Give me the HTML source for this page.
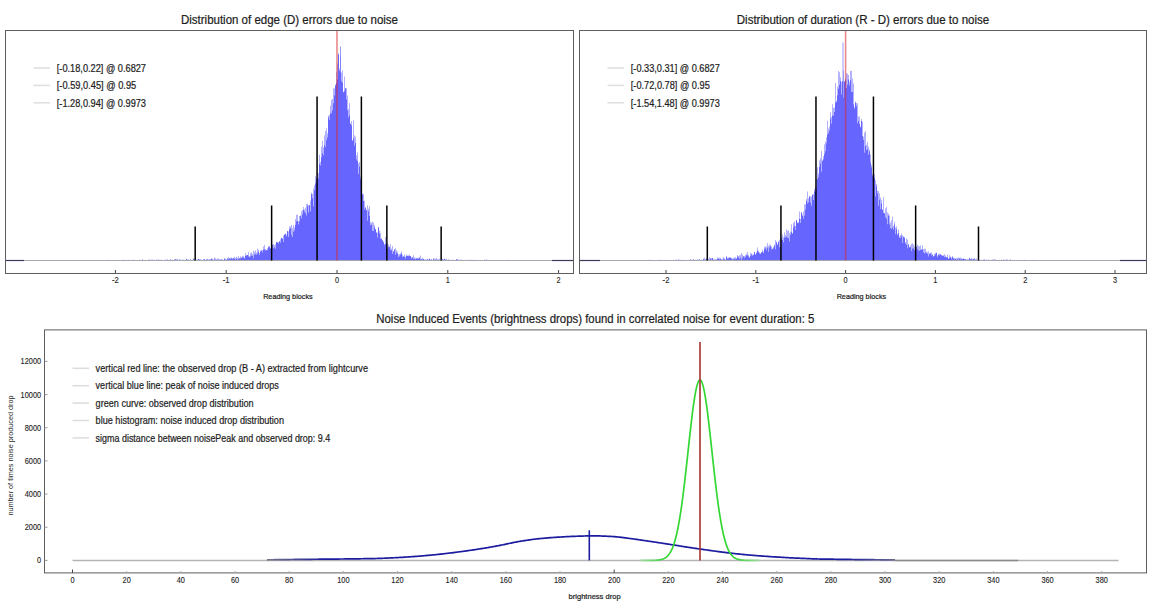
<!DOCTYPE html>
<html><head><meta charset="utf-8"><style>
html,body{margin:0;padding:0;background:#fff;width:1152px;height:608px;overflow:hidden;font-family:"Liberation Sans", sans-serif;}
svg{display:block;}
</style></head><body><svg width="1152" height="608" viewBox="0 0 1152 608" font-family='"Liberation Sans", sans-serif'><rect x="0" y="0" width="1152" height="608" fill="#fff"/><text x="289.5" y="23.8" font-size="12" text-anchor="middle" fill="#1e1e1e" stroke="#1e1e1e" stroke-width="0.22" textLength="217" lengthAdjust="spacingAndGlyphs">Distribution of edge (D) errors due to noise</text><line x1="340.5" y1="260.5" x2="340.5" y2="46.5" stroke="#9a9aff" stroke-width="1"/><path d="M6.0,260.5H28.0V260.4H28.5V260.5H29.0V260.4H29.5V260.5H30.5V260.3H31.0V260.4H31.5V260.5H33.5V260.4H34.0V260.5H34.5V260.4H35.0V260.3H35.5V260.5H39.0V260.4H40.0V260.5H41.0V260.4H41.5V260.5H43.0V260.3H43.5V260.4H44.0V260.5H45.5V260.3H46.0V260.5H47.0V260.4H47.5V260.5H50.0V260.3H50.5V260.4H51.0V260.5H51.5V260.4H52.0V260.5H52.5V260.3H53.0V260.5H53.5V260.4H54.0V260.5H54.5V260.4H55.0V260.5H57.5V260.0H58.0V260.5H59.0V260.4H60.0V260.5H61.0V260.3H61.5V260.4H62.0V260.5H64.0V260.4H64.5V260.5H65.0V260.3H65.5V260.4H66.0V260.5H68.5V260.4H69.0V260.5H69.5V260.3H70.0V260.5H70.5V260.3H71.0V260.5H71.5V260.3H72.0V260.4H72.5V260.5H73.0V260.2H73.5V260.1H74.0V260.5H76.0V260.2H76.5V260.5H79.0V260.1H79.5V260.5H80.0V260.2H80.5V260.4H81.0V260.5H82.5V260.4H83.0V260.5H85.0V260.0H85.5V260.5H86.5V260.3H87.0V260.0H87.5V260.5H89.5V260.2H90.0V260.4H91.0V260.5H91.5V260.3H92.0V260.5H94.0V260.0H94.5V260.5H95.0V260.3H95.5V260.4H96.0V260.5H97.0V260.2H97.5V260.5H98.0V260.4H99.0V260.0H99.5V260.2H100.0V260.3H100.5V260.5H101.5V260.1H102.5V260.4H103.0V260.2H103.5V260.1H105.0V260.5H105.5V259.9H106.0V260.5H106.5V260.1H107.0V260.2H107.5V260.1H108.0V259.8H108.5V259.9H109.0V260.5H110.0V260.1H110.5V260.5H111.0V260.4H111.5V260.1H112.0V260.5H113.0V260.3H114.0V260.4H114.5V260.3H115.0V260.5H116.0V260.4H116.5V260.5H117.5V260.2H118.0V260.4H118.5V260.2H119.0V260.5H121.0V260.3H121.5V260.5H122.0V260.2H123.0V259.6H123.5V260.5H124.0V260.0H124.5V260.3H125.5V260.5H126.5V260.0H127.0V260.3H128.0V260.4H128.5V259.8H129.0V260.3H129.5V260.5H132.0V259.7H132.5V260.3H133.0V260.5H134.0V259.8H134.5V260.2H135.5V260.3H136.0V260.2H136.5V259.9H137.0V260.0H137.5V260.2H138.0V260.5H138.5V260.0H139.0V260.5H139.5V259.8H140.0V260.5H140.5V260.3H141.0V260.2H141.5V260.5H142.0V259.5H142.5V259.6H143.0V260.4H143.5V259.9H144.0V260.0H144.5V260.5H145.0V260.1H145.5V260.2H146.5V260.5H147.0V260.3H148.0V259.6H148.5V260.0H149.0V260.2H149.5V259.5H150.0V260.4H150.5V260.3H151.0V260.5H151.5V259.4H152.0V259.7H153.0V259.8H153.5V260.1H154.0V260.0H154.5V260.3H155.0V260.2H155.5V260.1H156.0V259.4H156.5V259.8H157.0V260.1H157.5V260.4H158.5V259.3H159.0V259.8H159.5V260.1H160.0V260.3H160.5V260.5H161.0V260.1H161.5V259.6H162.0V260.3H162.5V260.2H163.5V260.0H164.0V260.5H164.5V260.2H165.0V260.5H165.5V259.6H166.0V260.5H166.5V259.7H167.0V259.2H167.5V260.2H168.0V260.4H168.5V259.9H169.0V260.0H169.5V260.5H170.0V259.8H170.5V258.9H171.0V260.1H172.0V260.5H172.5V259.8H173.0V260.5H174.0V259.3H174.5V260.5H175.0V259.4H175.5V259.1H176.0V259.8H176.5V259.6H177.0V258.8H177.5V260.1H178.0V260.3H178.5V260.5H179.0V259.9H179.5V259.1H180.0V259.4H180.5V260.5H181.0V260.4H181.5V260.2H182.0V259.7H182.5V260.0H183.0V259.8H183.5V259.7H184.0V260.1H184.5V259.9H185.0V259.7H185.5V259.9H186.0V259.5H186.5V258.7H187.0V259.5H187.5V259.8H188.0V260.5H188.5V259.6H189.0V260.5H190.0V259.3H191.0V259.9H191.5V260.5H192.0V260.0H192.5V260.2H193.0V259.3H193.5V258.3H194.0V259.6H194.5V260.2H195.0V260.5H195.5V259.8H196.5V260.5H197.0V259.6H197.5V260.5H198.0V258.9H198.5V259.0H199.0V258.9H199.5V260.0H200.0V259.3H200.5V259.7H201.0V259.9H202.0V260.5H203.0V259.0H203.5V259.7H204.0V259.4H204.5V258.9H205.0V260.5H205.5V260.1H206.0V259.4H206.5V259.3H207.0V259.8H207.5V258.8H208.0V259.4H208.5V260.4H209.0V260.2H209.5V258.9H210.0V259.1H210.5V260.5H211.0V258.5H211.5V259.0H212.0V258.4H212.5V259.7H213.5V260.3H214.0V257.5H214.5V259.5H215.0V258.2H215.5V259.9H216.0V259.3H216.5V260.5H217.0V259.7H217.5V258.6H218.0V260.3H218.5V258.5H219.0V259.1H219.5V260.1H220.0V259.7H220.5V259.6H221.0V259.3H221.5V259.6H222.0V259.8H222.5V259.4H223.0V259.9H223.5V260.1H224.0V259.0H224.5V258.1H225.0V260.3H225.5V258.8H226.0V259.4H226.5V259.7H227.0V257.9H227.5V259.2H228.0V257.1H228.5V259.3H229.0V258.1H229.5V258.7H230.0V259.2H230.5V257.7H231.0V258.4H231.5V257.6H232.0V258.2H232.5V259.3H233.0V258.1H233.5V257.9H234.0V256.8H234.5V258.9H235.0V257.8H235.5V259.7H236.0V256.8H236.5V258.8H237.0V259.7H237.5V257.4H238.0V255.9H238.5V259.1H239.0V258.5H239.5V258.0H240.0V258.4H240.5V256.3H241.0V257.8H241.5V257.6H242.0V255.7H242.5V257.5H243.0V255.7H243.5V257.6H244.0V257.8H244.5V258.6H245.0V253.0H245.5V256.1H246.0V255.2H246.5V255.4H247.0V255.0H248.0V251.9H248.5V256.5H249.0V257.2H249.5V256.2H250.0V256.6H250.5V252.9H251.0V252.5H251.5V255.5H252.0V256.1H252.5V254.1H253.0V250.7H253.5V258.3H254.0V251.8H254.5V254.7H255.0V250.4H255.5V254.3H256.0V252.6H256.5V254.8H257.0V253.7H257.5V248.7H258.0V249.7H258.5V252.0H259.0V252.9H259.5V254.9H260.0V251.6H260.5V250.6H261.5V250.4H262.0V252.5H262.5V250.0H263.0V249.8H263.5V246.6H264.0V245.1H264.5V249.4H265.0V250.7H265.5V248.9H266.0V249.9H266.5V250.0H267.0V248.2H267.5V250.3H268.0V246.0H268.5V247.5H269.0V246.3H269.5V247.1H270.0V248.2H270.5V248.5H271.0V246.4H271.5V246.9H272.0V244.6H272.5V244.9H273.0V248.2H273.5V244.0H274.0V247.5H274.5V245.2H275.0V244.0H275.5V248.7H276.0V242.2H276.5V241.7H277.0V242.2H277.5V242.6H278.0V242.1H278.5V243.6H279.0V241.1H279.5V241.6H280.0V239.2H280.5V242.8H281.0V238.0H281.5V237.8H282.0V238.3H282.5V238.8H283.0V235.2H283.5V242.0H284.0V234.6H284.5V234.8H285.0V234.2H285.5V233.4H286.0V236.4H286.5V234.6H287.0V231.0H287.5V231.2H288.0V231.5H288.5V237.1H289.0V229.2H289.5V226.4H290.5V228.6H291.0V234.8H291.5V224.8H292.0V228.3H292.5V236.9H293.0V225.1H293.5V231.8H294.0V230.4H294.5V227.2H295.0V219.0H295.5V224.9H296.0V221.6H296.5V214.8H297.0V214.7H297.5V221.1H298.0V220.9H298.5V224.6H299.0V221.5H299.5V216.0H300.0V215.4H300.5V215.9H301.0V211.3H301.5V218.4H302.0V214.4H302.5V210.1H303.0V210.0H303.5V206.9H304.0V209.2H304.5V211.7H305.0V207.7H305.5V213.3H306.0V215.5H306.5V204.0H307.0V206.2H307.5V203.5H308.0V212.5H308.5V204.9H309.0V205.0H309.5V205.3H310.0V211.4H310.5V200.4H311.0V192.7H311.5V194.2H312.0V198.2H312.5V193.9H313.0V188.4H313.5V206.4H314.0V190.6H314.5V185.6H315.0V183.4H315.5V176.2H316.0V177.9H316.5V180.7H317.0V178.4H317.5V173.0H318.0V178.5H318.5V172.9H319.0V164.3H319.5V154.8H320.0V165.4H320.5V161.8H321.0V157.2H321.5V146.4H322.0V153.3H322.5V140.7H323.0V155.2H323.5V147.4H324.0V145.1H324.5V135.6H325.0V131.1H325.5V147.2H326.0V140.2H326.5V128.2H327.0V133.2H327.5V137.6H328.0V115.6H328.5V117.4H329.0V115.0H329.5V120.1H330.0V105.7H330.5V113.3H331.0V99.9H331.5V113.6H332.0V110.5H332.5V98.7H333.0V103.2H333.5V88.3H334.0V88.6H334.5V95.5H335.0V84.4H335.5V85.6H336.0V71.8H336.5V82.9H337.0V79.4H337.5V63.6H338.0V53.4H338.5V54.5H339.0V70.9H339.5V68.5H340.0V56.6H340.5V72.6H341.0V81.3H341.5V72.4H342.0V70.4H342.5V82.8H343.0V91.8H343.5V92.4H344.0V76.4H344.5V91.3H345.0V88.3H346.0V88.2H346.5V99.4H347.0V95.6H347.5V110.2H348.0V109.0H348.5V117.4H349.0V103.1H349.5V115.3H350.0V123.8H350.5V123.6H351.0V125.4H351.5V121.1H352.0V141.1H352.5V140.1H353.0V138.5H353.5V120.5H354.0V135.2H354.5V145.8H355.0V143.1H355.5V136.7H356.0V155.3H356.5V159.4H357.0V152.6H357.5V160.9H358.0V163.2H358.5V173.9H359.0V162.1H359.5V166.6H360.0V176.5H360.5V179.2H361.0V198.3H361.5V186.9H362.0V194.8H362.5V193.4H363.0V193.9H363.5V201.0H364.0V209.5H364.5V200.7H365.0V207.8H365.5V207.3H366.0V210.1H366.5V210.2H367.0V220.8H367.5V205.6H368.0V211.4H368.5V208.8H369.0V206.2H369.5V216.1H370.0V225.2H370.5V222.3H371.0V224.7H371.5V222.8H372.0V221.5H372.5V231.1H373.0V222.7H373.5V231.0H374.0V224.9H374.5V227.5H375.0V229.2H376.0V231.9H376.5V233.0H377.0V237.6H377.5V232.5H378.0V226.9H378.5V227.4H379.0V230.6H379.5V233.5H380.0V238.8H380.5V232.8H381.0V238.3H381.5V239.1H382.0V240.5H382.5V240.0H383.0V242.2H383.5V241.8H384.0V245.3H384.5V243.8H385.0V237.0H385.5V244.1H386.0V245.1H386.5V243.5H387.0V243.6H387.5V248.8H388.0V246.9H388.5V244.5H389.0V246.5H389.5V247.3H390.0V244.3H390.5V249.9H391.0V248.5H391.5V250.3H392.0V246.1H392.5V254.1H393.0V251.5H394.0V249.3H394.5V249.7H395.0V248.4H395.5V254.8H396.0V250.3H396.5V252.7H397.0V253.7H397.5V251.6H398.0V254.6H398.5V256.9H399.0V254.0H399.5V256.2H400.0V254.8H400.5V253.2H401.0V253.5H401.5V251.5H402.0V254.7H402.5V257.1H403.0V256.0H403.5V256.4H404.0V257.0H404.5V254.5H405.0V256.4H405.5V258.5H406.0V254.6H406.5V255.9H407.0V255.4H407.5V255.9H408.0V255.2H408.5V256.2H409.0V254.7H409.5V255.9H410.0V256.1H410.5V256.2H411.0V258.8H411.5V257.2H412.0V257.4H412.5V256.9H413.0V258.9H413.5V255.3H414.0V257.3H414.5V259.0H415.0V259.6H415.5V258.0H416.0V257.9H416.5V258.6H417.0V257.8H417.5V258.7H418.0V257.4H418.5V258.9H419.0V258.2H419.5V257.2H420.0V255.6H420.5V259.4H421.0V258.9H421.5V259.3H422.0V257.8H422.5V259.7H423.0V259.1H423.5V258.8H424.0V259.7H425.0V259.3H425.5V260.5H426.0V260.3H426.5V259.4H427.0V258.9H427.5V259.3H428.0V260.5H428.5V259.6H429.0V258.6H429.5V258.8H430.0V259.4H430.5V260.0H431.0V258.9H431.5V259.8H432.0V260.3H432.5V260.0H433.0V258.3H433.5V259.3H434.0V258.6H434.5V259.9H435.0V258.8H435.5V260.0H436.0V259.7H436.5V257.8H437.0V259.1H437.5V260.0H438.0V259.7H438.5V259.4H439.0V258.8H439.5V260.0H440.0V260.5H440.5V259.9H441.0V259.7H442.0V258.9H442.5V259.6H443.0V259.3H443.5V260.5H444.0V259.3H444.5V258.5H445.0V259.4H445.5V259.7H446.0V259.8H446.5V258.8H447.0V260.4H447.5V260.0H448.0V259.7H448.5V259.5H449.0V260.2H449.5V259.8H450.0V260.1H450.5V259.9H451.0V260.1H451.5V260.5H452.0V260.0H452.5V259.6H453.0V260.5H453.5V260.2H454.0V259.7H454.5V260.5H455.0V260.0H455.5V260.5H456.0V259.5H456.5V259.0H457.0V259.1H457.5V260.2H458.0V259.8H458.5V260.1H459.5V259.5H460.0V260.5H460.5V259.7H461.0V260.2H461.5V259.5H462.0V260.1H462.5V260.5H463.0V260.1H463.5V259.9H464.0V260.2H464.5V260.0H465.0V260.4H465.5V260.5H466.0V259.8H466.5V259.9H467.0V260.2H468.0V259.8H468.5V260.4H469.0V260.5H469.5V260.3H470.0V259.7H470.5V260.5H471.0V259.7H471.5V260.5H472.5V259.7H473.0V260.3H473.5V260.5H474.0V260.4H474.5V259.9H475.0V259.8H475.5V260.4H476.0V260.1H476.5V260.0H477.0V260.5H477.5V260.1H478.0V260.3H478.5V260.5H479.5V260.3H480.5V260.5H481.5V259.9H482.0V260.2H482.5V260.0H483.0V259.9H483.5V260.1H484.0V259.5H484.5V260.5H485.0V260.0H485.5V260.4H486.0V259.6H486.5V259.7H487.0V260.5H488.0V260.1H489.5V260.4H490.0V260.2H490.5V260.1H491.0V260.4H491.5V260.0H492.0V260.5H492.5V260.1H493.0V260.5H493.5V260.0H494.0V260.4H494.5V260.5H495.0V260.2H495.5V260.5H497.0V260.4H497.5V260.2H498.0V260.0H498.5V260.4H499.0V260.0H499.5V260.4H500.5V260.2H501.0V260.1H501.5V260.5H502.5V260.4H503.5V260.5H504.0V260.1H504.5V260.5H505.0V260.3H505.5V260.5H506.0V260.3H507.0V260.5H507.5V259.8H508.0V260.3H508.5V259.9H509.0V260.1H509.5V260.5H510.5V260.3H511.0V260.4H512.0V260.5H514.0V260.3H514.5V260.5H516.0V260.4H516.5V260.5H519.0V260.1H519.5V260.5H520.0V260.3H520.5V260.5H521.0V260.4H521.5V260.5H522.5V260.3H523.0V260.0H523.5V260.4H524.5V260.5H525.0V260.3H525.5V260.5H526.0V260.3H526.5V260.5H527.0V260.1H527.5V260.5H528.5V260.3H529.0V260.5H531.5V260.0H532.0V260.3H532.5V260.5H534.0V260.3H534.5V260.5H535.5V260.3H536.5V260.5H539.0V260.4H539.5V260.5H540.0V260.4H540.5V260.2H541.0V260.3H541.5V260.5H542.0V260.4H542.5V260.3H543.0V260.5H545.0V260.3H545.5V260.5H549.0V260.4H549.5V260.5H553.0V260.4H553.5V260.5H554.5V260.3H555.5V260.5H556.5V260.4H557.0V260.5H572.5V260.5Z" fill="#6666ff" stroke="none"/><line x1="5" y1="260.5" x2="573" y2="260.5" stroke="#a8a8b0" stroke-width="1"/><line x1="5" y1="260.5" x2="24" y2="260.5" stroke="#3a3a5a" stroke-width="1.2"/><line x1="552" y1="260.5" x2="573" y2="260.5" stroke="#3a3a5a" stroke-width="1.2"/><line x1="337.0" y1="30" x2="337.0" y2="260.5" stroke="#d82828" stroke-opacity="0.55" stroke-width="1.6"/><line x1="195.18" y1="226.5" x2="195.18" y2="260.5" stroke="#000" stroke-width="1.5"/><line x1="271.63" y1="205.5" x2="271.63" y2="260.5" stroke="#000" stroke-width="1.5"/><line x1="317.06" y1="96.5" x2="317.06" y2="260.5" stroke="#000" stroke-width="1.5"/><line x1="361.38" y1="96.5" x2="361.38" y2="260.5" stroke="#000" stroke-width="1.5"/><line x1="386.86" y1="205.5" x2="386.86" y2="260.5" stroke="#000" stroke-width="1.5"/><line x1="441.15" y1="226.5" x2="441.15" y2="260.5" stroke="#000" stroke-width="1.5"/><rect x="5.5" y="30.5" width="568" height="243" fill="none" stroke="#5e5e5e" stroke-width="1"/><line x1="115.40" y1="273" x2="115.40" y2="270" stroke="#444" stroke-width="1"/><text x="115.40" y="282.9" font-size="8.4" text-anchor="middle" fill="#1e1e1e" stroke="#1e1e1e" stroke-width="0.12" textLength="6.8" lengthAdjust="spacingAndGlyphs">-2</text><line x1="226.20" y1="273" x2="226.20" y2="270" stroke="#444" stroke-width="1"/><text x="226.20" y="282.9" font-size="8.4" text-anchor="middle" fill="#1e1e1e" stroke="#1e1e1e" stroke-width="0.12" textLength="6.8" lengthAdjust="spacingAndGlyphs">-1</text><line x1="337.00" y1="273" x2="337.00" y2="270" stroke="#444" stroke-width="1"/><text x="337.00" y="282.9" font-size="8.4" text-anchor="middle" fill="#1e1e1e" stroke="#1e1e1e" stroke-width="0.12" textLength="4.1" lengthAdjust="spacingAndGlyphs">0</text><line x1="447.80" y1="273" x2="447.80" y2="270" stroke="#444" stroke-width="1"/><text x="447.80" y="282.9" font-size="8.4" text-anchor="middle" fill="#1e1e1e" stroke="#1e1e1e" stroke-width="0.12" textLength="4.1" lengthAdjust="spacingAndGlyphs">1</text><line x1="558.60" y1="273" x2="558.60" y2="270" stroke="#444" stroke-width="1"/><text x="558.60" y="282.9" font-size="8.4" text-anchor="middle" fill="#1e1e1e" stroke="#1e1e1e" stroke-width="0.12" textLength="4.1" lengthAdjust="spacingAndGlyphs">2</text><text x="287.9" y="298.9" font-size="7.8" text-anchor="middle" fill="#1e1e1e" stroke="#1e1e1e" stroke-width="0.22" textLength="49.5" lengthAdjust="spacingAndGlyphs">Reading blocks</text><line x1="33.5" y1="68.0" x2="50" y2="68.0" stroke="#dedede" stroke-width="1.5"/><text x="56.8" y="71.9" font-size="10.0" text-anchor="start" fill="#1e1e1e" stroke="#1e1e1e" stroke-width="0.22" textLength="89.2" lengthAdjust="spacingAndGlyphs">[-0.18,0.22] @ 0.6827</text><line x1="33.5" y1="85.4" x2="50" y2="85.4" stroke="#dedede" stroke-width="1.5"/><text x="56.8" y="89.30000000000001" font-size="10.0" text-anchor="start" fill="#1e1e1e" stroke="#1e1e1e" stroke-width="0.22" textLength="79.4" lengthAdjust="spacingAndGlyphs">[-0.59,0.45] @ 0.95</text><line x1="33.5" y1="102.8" x2="50" y2="102.8" stroke="#dedede" stroke-width="1.5"/><text x="56.8" y="106.7" font-size="10.0" text-anchor="start" fill="#1e1e1e" stroke="#1e1e1e" stroke-width="0.22" textLength="89.2" lengthAdjust="spacingAndGlyphs">[-1.28,0.94] @ 0.9973</text><text x="863.0" y="23.8" font-size="12" text-anchor="middle" fill="#1e1e1e" stroke="#1e1e1e" stroke-width="0.22" textLength="252.5" lengthAdjust="spacingAndGlyphs">Distribution of duration (R - D) errors due to noise</text><line x1="843" y1="260.5" x2="843" y2="42.5" stroke="#9a9aff" stroke-width="1"/><path d="M580.0,260.5H601.5V260.4H602.0V260.5H608.5V260.4H609.5V260.5H610.0V260.4H611.5V260.3H612.0V260.5H613.0V260.4H613.5V260.5H617.0V260.4H617.5V260.3H618.0V260.5H619.5V260.4H620.0V260.5H620.5V260.4H621.0V260.2H621.5V260.5H624.0V260.2H624.5V260.4H625.0V260.5H625.5V260.4H626.0V260.2H626.5V260.5H628.0V260.4H628.5V260.3H629.0V260.2H631.0V260.3H631.5V260.5H632.5V260.4H633.0V260.5H633.5V260.2H634.0V260.5H635.0V260.1H635.5V260.3H636.0V260.4H636.5V260.2H637.5V260.4H638.0V260.5H640.0V260.4H640.5V260.1H641.0V260.5H642.0V259.9H642.5V260.5H643.5V260.4H644.0V260.3H644.5V260.5H645.0V260.2H645.5V260.5H646.5V260.4H647.0V260.2H647.5V260.5H648.0V260.3H648.5V260.4H649.0V259.6H649.5V260.5H650.0V260.0H650.5V260.4H651.5V260.2H652.0V260.1H652.5V260.0H653.0V260.3H653.5V260.5H654.5V260.2H655.5V259.9H656.0V260.2H656.5V260.0H657.0V259.9H657.5V260.3H658.0V260.5H659.5V259.8H660.0V260.5H660.5V259.9H661.0V260.2H661.5V259.8H662.0V260.0H662.5V260.4H663.5V260.3H664.5V260.5H665.0V260.3H665.5V259.8H666.0V260.5H666.5V260.2H667.0V260.5H667.5V260.3H668.0V260.0H668.5V260.3H669.0V260.0H669.5V260.5H670.0V259.9H670.5V260.5H671.0V260.1H671.5V260.2H672.0V260.5H673.0V260.2H673.5V259.7H674.0V260.2H675.0V260.5H675.5V259.7H676.0V259.6H676.5V260.3H677.0V260.4H677.5V260.5H678.0V259.9H678.5V259.2H679.0V260.0H679.5V259.7H680.0V260.0H680.5V260.5H681.0V259.7H681.5V260.5H682.0V260.3H682.5V260.1H683.0V259.8H683.5V260.0H684.5V260.5H685.5V260.1H686.0V260.5H687.5V260.4H688.0V260.5H689.5V260.0H690.0V259.8H690.5V259.0H691.0V260.5H691.5V260.4H692.0V259.5H692.5V260.1H693.0V260.2H693.5V259.0H694.0V260.1H694.5V260.5H695.5V259.7H696.5V260.5H697.5V259.5H698.5V260.2H699.0V259.4H700.0V260.5H700.5V260.0H701.0V259.5H701.5V260.1H702.0V260.5H702.5V259.9H703.0V259.2H703.5V258.6H704.0V260.5H704.5V257.8H705.0V260.4H705.5V258.9H706.0V258.7H706.5V258.8H707.0V259.4H707.5V260.3H708.0V259.0H708.5V260.0H709.0V260.5H709.5V257.2H710.0V258.8H710.5V257.9H711.0V260.0H711.5V258.1H712.0V258.0H713.0V259.3H713.5V260.2H714.0V259.3H714.5V260.5H715.5V259.0H716.0V259.9H716.5V259.2H717.0V259.1H717.5V257.3H718.0V257.8H718.5V259.0H719.0V257.8H719.5V259.6H720.0V259.1H720.5V258.0H721.0V259.9H721.5V259.0H722.0V260.0H722.5V258.6H723.0V257.0H723.5V259.3H724.0V258.3H724.5V259.4H725.0V259.6H725.5V259.7H726.0V256.9H726.5V255.9H727.0V257.8H727.5V259.0H728.0V257.5H728.5V258.5H729.0V257.3H729.5V257.8H730.0V257.7H730.5V257.3H731.0V258.6H731.5V258.4H732.0V259.8H732.5V258.3H733.0V259.4H733.5V257.9H734.0V258.8H734.5V257.5H735.0V257.0H735.5V259.2H736.0V258.4H736.5V258.5H737.0V256.4H737.5V255.1H738.0V256.1H738.5V257.6H739.0V255.2H739.5V259.0H740.0V255.0H740.5V257.7H741.0V260.5H741.5V253.1H742.0V254.4H742.5V257.9H743.0V256.1H743.5V256.6H744.0V256.0H744.5V258.2H745.0V257.0H745.5V255.1H746.0V255.4H746.5V253.8H747.0V255.4H747.5V251.7H748.0V256.4H748.5V254.7H749.0V258.1H749.5V256.9H750.0V252.5H750.5V256.1H751.0V253.5H751.5V254.4H752.0V255.9H752.5V254.6H753.0V254.7H753.5V254.5H754.0V252.1H755.0V254.2H755.5V254.7H756.0V252.4H756.5V253.0H757.0V250.7H757.5V247.4H758.0V250.7H758.5V252.3H759.0V252.4H759.5V253.6H760.5V253.7H761.0V252.3H761.5V252.2H762.0V249.7H762.5V251.9H763.0V251.3H763.5V253.3H764.0V247.0H764.5V249.3H765.0V246.3H765.5V248.3H766.0V246.6H766.5V250.2H767.0V247.8H767.5V243.1H768.0V251.8H768.5V246.1H769.0V244.6H769.5V247.4H770.0V246.3H770.5V244.8H771.0V249.3H771.5V246.4H772.0V249.3H772.5V248.6H773.0V248.2H773.5V246.8H774.0V245.7H774.5V244.7H775.0V249.3H775.5V240.0H776.0V241.8H776.5V242.6H777.0V245.1H777.5V244.0H778.0V241.7H779.0V247.3H779.5V239.8H780.0V232.8H780.5V246.6H781.0V237.5H781.5V238.9H782.0V239.9H782.5V234.6H783.0V242.2H783.5V237.3H784.0V232.5H784.5V237.4H785.0V237.5H785.5V235.1H786.0V236.7H786.5V229.3H787.0V237.5H787.5V230.8H788.0V237.9H788.5V230.5H789.0V232.9H789.5V241.5H790.0V231.6H790.5V235.0H791.0V232.2H791.5V224.3H792.0V233.8H792.5V233.1H793.0V223.0H793.5V227.6H794.0V221.4H794.5V225.7H795.0V229.9H795.5V226.0H796.0V220.0H796.5V220.3H797.0V223.3H797.5V222.3H798.0V222.1H798.5V223.2H799.0V211.4H799.5V218.8H800.0V223.0H800.5V219.1H801.0V212.7H801.5V212.0H802.0V214.5H802.5V216.0H803.0V211.6H803.5V218.7H804.0V215.8H804.5V204.4H805.0V209.5H805.5V204.3H806.0V199.1H806.5V201.1H807.0V203.4H807.5V191.6H808.0V198.2H808.5V202.6H809.0V196.0H809.5V196.7H810.0V202.5H810.5V196.5H811.0V196.8H811.5V205.7H812.0V194.8H812.5V194.4H813.0V194.2H813.5V200.0H814.0V191.6H814.5V188.7H815.0V186.7H815.5V191.8H816.0V179.0H816.5V187.8H817.0V179.3H817.5V167.3H818.0V177.2H818.5V173.4H819.0V160.3H819.5V167.0H820.0V163.5H820.5V158.3H821.0V151.1H821.5V171.8H822.0V160.8H822.5V160.4H823.0V159.3H823.5V156.1H824.0V154.3H824.5V144.3H825.0V151.2H825.5V141.6H826.0V137.3H826.5V143.4H827.0V134.6H827.5V120.8H828.0V128.4H828.5V133.3H829.0V126.4H829.5V130.5H830.0V118.8H830.5V112.2H831.0V123.7H831.5V116.9H832.0V104.2H832.5V115.4H833.0V107.8H833.5V115.8H834.0V112.1H834.5V107.5H835.0V83.1H835.5V102.8H836.0V102.1H836.5V100.6H837.0V95.5H837.5V86.7H838.0V88.8H838.5V70.9H839.0V84.9H839.5V72.2H840.0V81.0H840.5V77.3H841.0V94.5H841.5V82.1H842.0V80.8H842.5V81.5H843.0V97.8H843.5V70.6H844.0V81.5H844.5V81.6H845.0V79.7H845.5V79.1H846.0V73.2H846.5V88.0H847.0V84.8H847.5V73.8H848.0V74.9H848.5V79.4H849.0V81.8H849.5V85.6H850.0V80.2H850.5V70.8H851.0V91.9H851.5V70.8H852.0V78.6H852.5V91.9H853.0V83.4H853.5V104.6H854.0V108.8H854.5V107.0H855.0V101.6H855.5V102.8H856.0V106.3H856.5V103.1H857.0V123.2H857.5V103.6H858.0V121.0H858.5V116.6H859.0V116.4H859.5V124.0H860.0V127.4H860.5V126.2H861.0V121.0H861.5V118.9H862.0V121.7H862.5V136.0H863.0V136.8H863.5V140.1H864.0V132.4H864.5V152.8H865.0V131.3H865.5V145.9H866.0V150.3H866.5V144.7H867.0V142.1H867.5V149.1H868.0V146.4H868.5V154.8H869.0V149.6H869.5V151.5H870.0V162.4H870.5V154.4H871.0V164.9H871.5V167.6H872.0V176.0H872.5V174.1H873.0V169.6H873.5V184.2H874.0V174.3H874.5V178.1H875.0V180.3H875.5V196.6H876.0V186.3H876.5V183.9H877.0V193.6H877.5V190.7H878.0V205.8H878.5V191.0H879.0V199.7H879.5V193.3H880.0V208.9H880.5V197.4H881.0V203.5H881.5V199.7H882.0V209.7H882.5V209.5H883.0V197.0H883.5V213.0H884.0V213.6H884.5V212.8H885.0V217.3H885.5V208.4H886.0V207.0H886.5V218.8H887.0V224.2H887.5V212.4H888.0V213.6H888.5V215.8H889.0V215.3H889.5V224.6H890.0V222.5H890.5V228.3H891.0V229.1H891.5V220.2H892.0V227.6H892.5V216.7H893.0V226.1H893.5V229.6H894.0V224.8H894.5V221.7H895.0V227.4H895.5V234.3H896.0V229.2H896.5V226.2H897.0V233.6H897.5V235.2H898.0V229.6H898.5V233.2H899.0V238.1H899.5V236.2H900.0V238.0H900.5V235.0H901.0V236.2H901.5V233.4H902.0V235.3H902.5V243.0H903.0V237.3H903.5V236.3H904.0V238.2H904.5V236.9H905.0V242.1H905.5V243.7H906.0V238.5H906.5V244.7H907.0V248.2H907.5V239.4H908.0V244.7H908.5V243.9H909.0V247.2H909.5V247.3H910.0V247.2H910.5V245.3H911.0V243.7H911.5V251.0H912.0V243.3H912.5V248.6H913.5V244.4H914.0V246.6H914.5V250.5H915.0V242.4H915.5V249.3H916.0V246.8H916.5V247.2H917.0V244.6H917.5V249.3H918.0V246.1H918.5V250.4H919.0V246.3H919.5V250.8H920.0V250.1H920.5V245.3H921.0V249.1H921.5V249.7H922.0V245.3H922.5V249.6H923.0V252.3H923.5V249.2H924.0V253.4H924.5V248.8H925.5V252.7H926.0V252.9H926.5V251.5H927.0V252.0H927.5V254.1H928.0V251.3H928.5V256.5H929.0V253.6H929.5V253.7H930.0V253.6H930.5V252.7H931.0V255.6H931.5V252.5H932.0V254.0H932.5V255.0H933.0V256.4H933.5V256.2H934.0V253.7H934.5V256.0H935.0V254.4H935.5V252.9H936.0V253.1H936.5V252.4H937.0V255.5H937.5V256.9H938.0V253.7H938.5V254.9H939.0V253.8H939.5V255.6H940.0V253.9H940.5V254.6H941.0V254.9H941.5V255.3H942.0V255.6H942.5V255.9H943.0V256.1H943.5V255.1H944.0V257.3H944.5V254.3H945.0V256.9H945.5V255.6H946.0V257.1H946.5V257.4H947.0V254.6H947.5V257.6H948.0V258.9H948.5V258.3H949.0V257.9H949.5V255.0H950.0V257.4H950.5V256.6H951.0V259.0H951.5V257.5H952.0V257.2H952.5V256.0H953.0V258.8H953.5V257.5H954.0V257.9H954.5V259.4H955.0V258.4H955.5V258.7H956.0V260.5H956.5V257.9H957.0V258.0H957.5V259.1H958.0V260.0H958.5V257.3H959.0V258.5H959.5V257.9H960.0V257.6H960.5V259.4H961.0V258.2H961.5V259.2H962.0V259.0H962.5V259.1H963.0V259.0H963.5V258.1H964.0V259.0H964.5V259.2H965.0V259.4H965.5V258.9H966.0V259.9H966.5V259.6H967.0V259.3H967.5V259.7H968.0V259.4H968.5V259.8H969.0V257.7H969.5V258.3H970.0V259.0H970.5V259.4H971.0V257.7H971.5V259.2H972.0V259.5H972.5V259.2H973.0V259.3H973.5V258.5H974.0V259.5H974.5V258.0H975.0V260.2H975.5V259.1H976.0V260.3H976.5V258.4H977.0V259.9H977.5V259.7H978.0V259.0H978.5V258.8H979.0V260.4H979.5V260.0H980.0V260.5H980.5V259.7H981.0V259.8H981.5V260.0H982.0V260.2H982.5V260.1H983.0V260.3H983.5V259.5H984.0V258.9H984.5V260.5H985.0V260.0H985.5V260.1H986.0V259.6H986.5V260.5H987.0V260.0H987.5V260.5H988.0V259.6H988.5V259.9H989.0V260.1H989.5V259.8H990.0V260.1H990.5V260.5H991.0V259.7H991.5V259.9H992.0V260.1H992.5V259.5H993.0V259.4H993.5V260.5H994.5V259.3H995.5V260.5H996.5V260.4H997.0V260.3H997.5V260.5H998.0V260.1H998.5V260.5H999.5V259.7H1000.0V260.5H1000.5V260.2H1001.0V259.8H1001.5V259.7H1002.0V260.3H1002.5V260.1H1003.0V260.5H1003.5V259.3H1004.0V259.9H1004.5V260.5H1005.0V260.2H1005.5V259.8H1006.0V260.0H1006.5V259.3H1007.0V259.6H1007.5V260.4H1008.0V260.2H1008.5V260.5H1009.0V260.1H1010.0V259.0H1010.5V260.2H1011.0V260.5H1012.0V260.2H1012.5V260.5H1013.5V260.4H1014.0V260.1H1014.5V260.3H1015.0V260.5H1015.5V259.9H1016.0V260.5H1018.0V260.0H1018.5V260.5H1019.0V260.3H1019.5V260.0H1020.0V260.4H1020.5V260.2H1021.0V260.5H1021.5V259.8H1022.0V259.9H1022.5V260.2H1023.0V260.5H1024.0V260.0H1024.5V259.7H1025.0V260.2H1025.5V259.9H1026.0V260.5H1026.5V260.4H1027.0V260.3H1027.5V260.2H1028.0V260.5H1028.5V260.0H1029.0V259.9H1029.5V260.5H1030.5V260.2H1031.0V260.5H1032.0V260.1H1032.5V260.3H1033.0V260.5H1033.5V259.7H1034.0V260.3H1034.5V260.5H1035.0V260.4H1035.5V260.5H1036.5V260.3H1037.0V260.5H1038.0V259.9H1038.5V260.2H1039.5V260.3H1040.5V260.0H1041.0V260.4H1041.5V259.9H1042.0V260.5H1044.0V260.3H1044.5V260.0H1045.0V260.5H1045.5V260.4H1046.0V260.5H1047.5V260.4H1048.0V260.5H1048.5V260.4H1049.5V260.5H1051.0V259.9H1051.5V260.5H1052.0V260.0H1052.5V260.3H1053.0V260.5H1054.0V260.2H1054.5V260.0H1055.0V260.5H1056.0V260.2H1056.5V260.4H1057.0V259.9H1057.5V260.5H1058.0V260.3H1058.5V260.5H1059.0V259.9H1059.5V260.5H1061.5V260.0H1062.0V260.5H1063.0V260.3H1063.5V260.1H1064.0V260.5H1064.5V260.2H1065.0V260.3H1065.5V260.5H1066.0V260.4H1066.5V260.5H1067.5V260.2H1068.0V260.5H1068.5V260.2H1069.0V260.3H1069.5V260.5H1071.0V260.4H1071.5V260.3H1072.0V260.4H1072.5V260.3H1073.0V260.5H1073.5V260.4H1074.0V260.5H1074.5V260.3H1075.0V260.4H1075.5V260.5H1076.0V260.2H1076.5V260.3H1077.0V260.5H1078.5V260.3H1079.0V260.0H1079.5V260.5H1081.0V260.4H1082.0V260.3H1082.5V260.5H1083.0V260.2H1083.5V260.5H1084.0V260.4H1084.5V260.3H1085.0V260.4H1085.5V260.5H1087.5V260.3H1088.0V260.5H1088.5V260.4H1090.5V260.3H1091.0V260.4H1092.5V260.2H1093.0V260.5H1093.5V260.3H1094.0V260.5H1097.0V260.4H1097.5V260.5H1098.0V260.3H1098.5V260.5H1104.5V260.3H1105.0V260.4H1105.5V260.5H1107.5V260.4H1108.0V260.5H1110.0V260.4H1110.5V260.5H1112.0V260.4H1112.5V260.5H1115.0V260.4H1115.5V260.5H1145.5V260.5Z" fill="#6666ff" stroke="none"/><line x1="579" y1="260.5" x2="1146" y2="260.5" stroke="#a8a8b0" stroke-width="1"/><line x1="579" y1="260.5" x2="600" y2="260.5" stroke="#3a3a5a" stroke-width="1.2"/><line x1="1120" y1="260.5" x2="1146" y2="260.5" stroke="#3a3a5a" stroke-width="1.2"/><line x1="845.6" y1="30" x2="845.6" y2="260.5" stroke="#d82828" stroke-opacity="0.55" stroke-width="1.6"/><line x1="707.31" y1="226.5" x2="707.31" y2="260.5" stroke="#000" stroke-width="1.5"/><line x1="780.94" y1="205.5" x2="780.94" y2="260.5" stroke="#000" stroke-width="1.5"/><line x1="815.97" y1="96.5" x2="815.97" y2="260.5" stroke="#000" stroke-width="1.5"/><line x1="873.44" y1="96.5" x2="873.44" y2="260.5" stroke="#000" stroke-width="1.5"/><line x1="915.64" y1="205.5" x2="915.64" y2="260.5" stroke="#000" stroke-width="1.5"/><line x1="978.50" y1="226.5" x2="978.50" y2="260.5" stroke="#000" stroke-width="1.5"/><rect x="579.5" y="30.5" width="567" height="243" fill="none" stroke="#5e5e5e" stroke-width="1"/><line x1="666.00" y1="273" x2="666.00" y2="270" stroke="#444" stroke-width="1"/><text x="666.00" y="282.9" font-size="8.4" text-anchor="middle" fill="#1e1e1e" stroke="#1e1e1e" stroke-width="0.12" textLength="6.8" lengthAdjust="spacingAndGlyphs">-2</text><line x1="755.80" y1="273" x2="755.80" y2="270" stroke="#444" stroke-width="1"/><text x="755.80" y="282.9" font-size="8.4" text-anchor="middle" fill="#1e1e1e" stroke="#1e1e1e" stroke-width="0.12" textLength="6.8" lengthAdjust="spacingAndGlyphs">-1</text><line x1="845.60" y1="273" x2="845.60" y2="270" stroke="#444" stroke-width="1"/><text x="845.60" y="282.9" font-size="8.4" text-anchor="middle" fill="#1e1e1e" stroke="#1e1e1e" stroke-width="0.12" textLength="4.1" lengthAdjust="spacingAndGlyphs">0</text><line x1="935.40" y1="273" x2="935.40" y2="270" stroke="#444" stroke-width="1"/><text x="935.40" y="282.9" font-size="8.4" text-anchor="middle" fill="#1e1e1e" stroke="#1e1e1e" stroke-width="0.12" textLength="4.1" lengthAdjust="spacingAndGlyphs">1</text><line x1="1025.20" y1="273" x2="1025.20" y2="270" stroke="#444" stroke-width="1"/><text x="1025.20" y="282.9" font-size="8.4" text-anchor="middle" fill="#1e1e1e" stroke="#1e1e1e" stroke-width="0.12" textLength="4.1" lengthAdjust="spacingAndGlyphs">2</text><line x1="1115.00" y1="273" x2="1115.00" y2="270" stroke="#444" stroke-width="1"/><text x="1115.00" y="282.9" font-size="8.4" text-anchor="middle" fill="#1e1e1e" stroke="#1e1e1e" stroke-width="0.12" textLength="4.1" lengthAdjust="spacingAndGlyphs">3</text><text x="861.4" y="298.9" font-size="7.8" text-anchor="middle" fill="#1e1e1e" stroke="#1e1e1e" stroke-width="0.22" textLength="49.5" lengthAdjust="spacingAndGlyphs">Reading blocks</text><line x1="607.5" y1="68.0" x2="624" y2="68.0" stroke="#dedede" stroke-width="1.5"/><text x="630.8" y="71.9" font-size="10.0" text-anchor="start" fill="#1e1e1e" stroke="#1e1e1e" stroke-width="0.22" textLength="89" lengthAdjust="spacingAndGlyphs">[-0.33,0.31] @ 0.6827</text><line x1="607.5" y1="85.4" x2="624" y2="85.4" stroke="#dedede" stroke-width="1.5"/><text x="630.8" y="89.30000000000001" font-size="10.0" text-anchor="start" fill="#1e1e1e" stroke="#1e1e1e" stroke-width="0.22" textLength="79" lengthAdjust="spacingAndGlyphs">[-0.72,0.78] @ 0.95</text><line x1="607.5" y1="102.8" x2="624" y2="102.8" stroke="#dedede" stroke-width="1.5"/><text x="630.8" y="106.7" font-size="10.0" text-anchor="start" fill="#1e1e1e" stroke="#1e1e1e" stroke-width="0.22" textLength="89" lengthAdjust="spacingAndGlyphs">[-1.54,1.48] @ 0.9973</text><text x="595.3" y="322.8" font-size="12" text-anchor="middle" fill="#1e1e1e" stroke="#1e1e1e" stroke-width="0.22" textLength="438" lengthAdjust="spacingAndGlyphs">Noise Induced Events (brightness drops) found in correlated noise for event duration: 5</text><line x1="72.5" y1="560.4" x2="1118.5" y2="560.4" stroke="#b4b4b4" stroke-width="1.5"/><line x1="895" y1="560.4" x2="1018" y2="560.4" stroke="#8a8a8a" stroke-width="1.5"/><defs><linearGradient id="bg" gradientUnits="userSpaceOnUse" x1="267" y1="0" x2="895" y2="0"><stop offset="0" stop-color="#777788"/><stop offset="0.09" stop-color="#1c1ca0"/><stop offset="0.92" stop-color="#1c1ca0"/><stop offset="1" stop-color="#6a6a90"/></linearGradient></defs><path d="M267.0,559.78 L268.0,559.78 L269.0,559.77 L270.0,559.76 L271.0,559.75 L272.0,559.74 L273.0,559.73 L274.0,559.72 L275.0,559.70 L276.0,559.69 L277.0,559.68 L278.0,559.67 L279.0,559.65 L280.0,559.64 L281.0,559.63 L282.0,559.62 L283.0,559.61 L284.0,559.59 L285.0,559.58 L286.0,559.57 L287.0,559.56 L288.0,559.55 L289.0,559.53 L290.0,559.52 L291.0,559.51 L292.0,559.50 L293.0,559.48 L294.0,559.47 L295.0,559.46 L296.0,559.45 L297.0,559.44 L298.0,559.43 L299.0,559.41 L300.0,559.40 L301.0,559.39 L302.0,559.38 L303.0,559.37 L304.0,559.36 L305.0,559.35 L306.0,559.34 L307.0,559.33 L308.0,559.32 L309.0,559.31 L310.0,559.30 L311.0,559.29 L312.0,559.28 L313.0,559.27 L314.0,559.27 L315.0,559.26 L316.0,559.25 L317.0,559.24 L318.0,559.23 L319.0,559.22 L320.0,559.21 L321.0,559.20 L322.0,559.19 L323.0,559.18 L324.0,559.17 L325.0,559.16 L326.0,559.15 L327.0,559.14 L328.0,559.13 L329.0,559.12 L330.0,559.11 L331.0,559.10 L332.0,559.09 L333.0,559.08 L334.0,559.07 L335.0,559.06 L336.0,559.05 L337.0,559.04 L338.0,559.03 L339.0,559.03 L340.0,559.02 L341.0,559.01 L342.0,559.00 L343.0,558.99 L344.0,558.98 L345.0,558.97 L346.0,558.96 L347.0,558.95 L348.0,558.94 L349.0,558.93 L350.0,558.92 L351.0,558.90 L352.0,558.89 L353.0,558.88 L354.0,558.87 L355.0,558.85 L356.0,558.84 L357.0,558.82 L358.0,558.81 L359.0,558.79 L360.0,558.78 L361.0,558.76 L362.0,558.75 L363.0,558.73 L364.0,558.72 L365.0,558.70 L366.0,558.68 L367.0,558.67 L368.0,558.65 L369.0,558.64 L370.0,558.62 L371.0,558.61 L372.0,558.59 L373.0,558.58 L374.0,558.56 L375.0,558.54 L376.0,558.51 L377.0,558.49 L378.0,558.46 L379.0,558.43 L380.0,558.39 L381.0,558.36 L382.0,558.32 L383.0,558.27 L384.0,558.23 L385.0,558.18 L386.0,558.14 L387.0,558.09 L388.0,558.05 L389.0,558.00 L390.0,557.95 L391.0,557.91 L392.0,557.86 L393.0,557.82 L394.0,557.77 L395.0,557.73 L396.0,557.68 L397.0,557.63 L398.0,557.58 L399.0,557.52 L400.0,557.47 L401.0,557.41 L402.0,557.35 L403.0,557.29 L404.0,557.22 L405.0,557.16 L406.0,557.09 L407.0,557.02 L408.0,556.95 L409.0,556.88 L410.0,556.81 L411.0,556.74 L412.0,556.67 L413.0,556.60 L414.0,556.53 L415.0,556.46 L416.0,556.38 L417.0,556.31 L418.0,556.23 L419.0,556.15 L420.0,556.07 L421.0,555.98 L422.0,555.90 L423.0,555.81 L424.0,555.73 L425.0,555.64 L426.0,555.55 L427.0,555.47 L428.0,555.38 L429.0,555.29 L430.0,555.21 L431.0,555.12 L432.0,555.02 L433.0,554.93 L434.0,554.83 L435.0,554.73 L436.0,554.63 L437.0,554.52 L438.0,554.41 L439.0,554.30 L440.0,554.19 L441.0,554.08 L442.0,553.96 L443.0,553.85 L444.0,553.73 L445.0,553.62 L446.0,553.50 L447.0,553.39 L448.0,553.27 L449.0,553.15 L450.0,553.03 L451.0,552.91 L452.0,552.79 L453.0,552.66 L454.0,552.54 L455.0,552.41 L456.0,552.28 L457.0,552.15 L458.0,552.02 L459.0,551.88 L460.0,551.75 L461.0,551.62 L462.0,551.48 L463.0,551.35 L464.0,551.22 L465.0,551.08 L466.0,550.95 L467.0,550.81 L468.0,550.67 L469.0,550.53 L470.0,550.38 L471.0,550.24 L472.0,550.09 L473.0,549.94 L474.0,549.79 L475.0,549.63 L476.0,549.48 L477.0,549.32 L478.0,549.17 L479.0,549.01 L480.0,548.86 L481.0,548.70 L482.0,548.54 L483.0,548.39 L484.0,548.23 L485.0,548.06 L486.0,547.90 L487.0,547.73 L488.0,547.56 L489.0,547.39 L490.0,547.21 L491.0,547.03 L492.0,546.85 L493.0,546.67 L494.0,546.49 L495.0,546.31 L496.0,546.12 L497.0,545.94 L498.0,545.75 L499.0,545.55 L500.0,545.36 L501.0,545.16 L502.0,544.96 L503.0,544.75 L504.0,544.55 L505.0,544.34 L506.0,544.12 L507.0,543.91 L508.0,543.70 L509.0,543.49 L510.0,543.27 L511.0,543.06 L512.0,542.85 L513.0,542.64 L514.0,542.44 L515.0,542.24 L516.0,542.05 L517.0,541.86 L518.0,541.68 L519.0,541.50 L520.0,541.33 L521.0,541.17 L522.0,541.01 L523.0,540.86 L524.0,540.71 L525.0,540.56 L526.0,540.41 L527.0,540.26 L528.0,540.11 L529.0,539.96 L530.0,539.81 L531.0,539.66 L532.0,539.53 L533.0,539.39 L534.0,539.27 L535.0,539.14 L536.0,539.03 L537.0,538.92 L538.0,538.81 L539.0,538.71 L540.0,538.61 L541.0,538.52 L542.0,538.43 L543.0,538.34 L544.0,538.24 L545.0,538.15 L546.0,538.06 L547.0,537.97 L548.0,537.88 L549.0,537.79 L550.0,537.71 L551.0,537.63 L552.0,537.55 L553.0,537.48 L554.0,537.41 L555.0,537.34 L556.0,537.28 L557.0,537.22 L558.0,537.16 L559.0,537.10 L560.0,537.04 L561.0,536.99 L562.0,536.93 L563.0,536.87 L564.0,536.81 L565.0,536.76 L566.0,536.70 L567.0,536.65 L568.0,536.60 L569.0,536.55 L570.0,536.50 L571.0,536.46 L572.0,536.42 L573.0,536.38 L574.0,536.34 L575.0,536.31 L576.0,536.27 L577.0,536.24 L578.0,536.20 L579.0,536.17 L580.0,536.13 L581.0,536.10 L582.0,536.07 L583.0,536.04 L584.0,536.01 L585.0,535.98 L586.0,535.96 L587.0,535.94 L588.0,535.93 L589.0,535.92 L590.0,535.91 L591.0,535.90 L592.0,535.90 L593.0,535.90 L594.0,535.90 L595.0,535.90 L596.0,535.90 L597.0,535.91 L598.0,535.93 L599.0,535.95 L600.0,535.97 L601.0,536.00 L602.0,536.03 L603.0,536.06 L604.0,536.10 L605.0,536.15 L606.0,536.20 L607.0,536.25 L608.0,536.30 L609.0,536.35 L610.0,536.40 L611.0,536.45 L612.0,536.51 L613.0,536.57 L614.0,536.64 L615.0,536.72 L616.0,536.80 L617.0,536.90 L618.0,536.99 L619.0,537.10 L620.0,537.21 L621.0,537.33 L622.0,537.46 L623.0,537.59 L624.0,537.71 L625.0,537.84 L626.0,537.96 L627.0,538.09 L628.0,538.22 L629.0,538.34 L630.0,538.47 L631.0,538.61 L632.0,538.74 L633.0,538.88 L634.0,539.01 L635.0,539.15 L636.0,539.30 L637.0,539.44 L638.0,539.59 L639.0,539.74 L640.0,539.89 L641.0,540.04 L642.0,540.19 L643.0,540.33 L644.0,540.48 L645.0,540.63 L646.0,540.78 L647.0,540.93 L648.0,541.08 L649.0,541.23 L650.0,541.38 L651.0,541.53 L652.0,541.68 L653.0,541.83 L654.0,541.98 L655.0,542.13 L656.0,542.28 L657.0,542.43 L658.0,542.58 L659.0,542.73 L660.0,542.88 L661.0,543.03 L662.0,543.18 L663.0,543.33 L664.0,543.48 L665.0,543.64 L666.0,543.79 L667.0,543.94 L668.0,544.10 L669.0,544.25 L670.0,544.41 L671.0,544.57 L672.0,544.73 L673.0,544.89 L674.0,545.05 L675.0,545.21 L676.0,545.37 L677.0,545.53 L678.0,545.69 L679.0,545.85 L680.0,546.01 L681.0,546.18 L682.0,546.33 L683.0,546.49 L684.0,546.65 L685.0,546.80 L686.0,546.96 L687.0,547.11 L688.0,547.26 L689.0,547.41 L690.0,547.56 L691.0,547.71 L692.0,547.86 L693.0,548.01 L694.0,548.16 L695.0,548.30 L696.0,548.45 L697.0,548.60 L698.0,548.74 L699.0,548.89 L700.0,549.03 L701.0,549.18 L702.0,549.32 L703.0,549.46 L704.0,549.61 L705.0,549.75 L706.0,549.89 L707.0,550.03 L708.0,550.17 L709.0,550.31 L710.0,550.45 L711.0,550.59 L712.0,550.73 L713.0,550.87 L714.0,551.01 L715.0,551.15 L716.0,551.28 L717.0,551.41 L718.0,551.54 L719.0,551.68 L720.0,551.80 L721.0,551.93 L722.0,552.06 L723.0,552.19 L724.0,552.31 L725.0,552.44 L726.0,552.56 L727.0,552.69 L728.0,552.82 L729.0,552.94 L730.0,553.06 L731.0,553.18 L732.0,553.30 L733.0,553.42 L734.0,553.53 L735.0,553.64 L736.0,553.74 L737.0,553.85 L738.0,553.95 L739.0,554.05 L740.0,554.14 L741.0,554.24 L742.0,554.34 L743.0,554.44 L744.0,554.54 L745.0,554.63 L746.0,554.73 L747.0,554.83 L748.0,554.92 L749.0,555.01 L750.0,555.10 L751.0,555.19 L752.0,555.27 L753.0,555.35 L754.0,555.44 L755.0,555.51 L756.0,555.59 L757.0,555.67 L758.0,555.74 L759.0,555.82 L760.0,555.89 L761.0,555.97 L762.0,556.04 L763.0,556.12 L764.0,556.19 L765.0,556.26 L766.0,556.33 L767.0,556.40 L768.0,556.47 L769.0,556.54 L770.0,556.60 L771.0,556.67 L772.0,556.73 L773.0,556.79 L774.0,556.85 L775.0,556.91 L776.0,556.97 L777.0,557.03 L778.0,557.09 L779.0,557.15 L780.0,557.21 L781.0,557.27 L782.0,557.33 L783.0,557.39 L784.0,557.45 L785.0,557.51 L786.0,557.57 L787.0,557.63 L788.0,557.68 L789.0,557.74 L790.0,557.79 L791.0,557.84 L792.0,557.89 L793.0,557.94 L794.0,557.98 L795.0,558.03 L796.0,558.07 L797.0,558.12 L798.0,558.16 L799.0,558.21 L800.0,558.25 L801.0,558.29 L802.0,558.34 L803.0,558.38 L804.0,558.43 L805.0,558.47 L806.0,558.51 L807.0,558.56 L808.0,558.60 L809.0,558.65 L810.0,558.69 L811.0,558.74 L812.0,558.78 L813.0,558.82 L814.0,558.86 L815.0,558.90 L816.0,558.93 L817.0,558.96 L818.0,558.99 L819.0,559.01 L820.0,559.03 L821.0,559.05 L822.0,559.07 L823.0,559.08 L824.0,559.10 L825.0,559.11 L826.0,559.13 L827.0,559.14 L828.0,559.15 L829.0,559.17 L830.0,559.18 L831.0,559.20 L832.0,559.21 L833.0,559.22 L834.0,559.24 L835.0,559.25 L836.0,559.27 L837.0,559.28 L838.0,559.29 L839.0,559.31 L840.0,559.32 L841.0,559.33 L842.0,559.35 L843.0,559.36 L844.0,559.38 L845.0,559.39 L846.0,559.40 L847.0,559.42 L848.0,559.43 L849.0,559.45 L850.0,559.46 L851.0,559.47 L852.0,559.49 L853.0,559.50 L854.0,559.52 L855.0,559.53 L856.0,559.54 L857.0,559.56 L858.0,559.57 L859.0,559.58 L860.0,559.59 L861.0,559.60 L862.0,559.61 L863.0,559.62 L864.0,559.63 L865.0,559.64 L866.0,559.65 L867.0,559.66 L868.0,559.67 L869.0,559.68 L870.0,559.69 L871.0,559.69 L872.0,559.70 L873.0,559.71 L874.0,559.72 L875.0,559.73 L876.0,559.74 L877.0,559.75 L878.0,559.75 L879.0,559.76 L880.0,559.77 L881.0,559.78 L882.0,559.79 L883.0,559.80 L884.0,559.81 L885.0,559.81 L886.0,559.82 L887.0,559.83 L888.0,559.84 L889.0,559.85 L890.0,559.86 L891.0,559.86 L892.0,559.87 L893.0,559.88 L894.0,559.88 L895.0,559.89" fill="none" stroke="url(#bg)" stroke-width="1.7" stroke-linejoin="round"/><line x1="589.3" y1="530.3" x2="589.3" y2="560.4" stroke="#1c1ca0" stroke-width="1.6"/><defs><linearGradient id="gg" gradientUnits="userSpaceOnUse" x1="640" y1="0" x2="760" y2="0"><stop offset="0" stop-color="#a8d8a8"/><stop offset="0.2" stop-color="#33d633"/><stop offset="0.8" stop-color="#33d633"/><stop offset="1" stop-color="#a8d8a8"/></linearGradient></defs><path d="M640.0,560.40 L640.5,560.40 L641.0,560.40 L641.5,560.40 L642.0,560.40 L642.5,560.40 L643.0,560.40 L643.5,560.40 L644.0,560.40 L644.5,560.40 L645.0,560.40 L645.5,560.39 L646.0,560.39 L646.5,560.39 L647.0,560.39 L647.5,560.39 L648.0,560.39 L648.5,560.38 L649.0,560.38 L649.5,560.38 L650.0,560.37 L650.5,560.37 L651.0,560.36 L651.5,560.36 L652.0,560.35 L652.5,560.34 L653.0,560.33 L653.5,560.31 L654.0,560.30 L654.5,560.28 L655.0,560.26 L655.5,560.23 L656.0,560.21 L656.5,560.17 L657.0,560.14 L657.5,560.09 L658.0,560.04 L658.5,559.99 L659.0,559.92 L659.5,559.85 L660.0,559.76 L660.5,559.67 L661.0,559.56 L661.5,559.44 L662.0,559.30 L662.5,559.14 L663.0,558.96 L663.5,558.77 L664.0,558.54 L664.5,558.29 L665.0,558.01 L665.5,557.70 L666.0,557.35 L666.5,556.97 L667.0,556.54 L667.5,556.07 L668.0,555.55 L668.5,554.97 L669.0,554.34 L669.5,553.64 L670.0,552.88 L670.5,552.05 L671.0,551.14 L671.5,550.15 L672.0,549.07 L672.5,547.91 L673.0,546.65 L673.5,545.28 L674.0,543.82 L674.5,542.24 L675.0,540.54 L675.5,538.73 L676.0,536.79 L676.5,534.73 L677.0,532.53 L677.5,530.20 L678.0,527.73 L678.5,525.12 L679.0,522.38 L679.5,519.49 L680.0,516.45 L680.5,513.28 L681.0,509.96 L681.5,506.51 L682.0,502.93 L682.5,499.21 L683.0,495.37 L683.5,491.40 L684.0,487.33 L684.5,483.15 L685.0,478.88 L685.5,474.52 L686.0,470.09 L686.5,465.59 L687.0,461.05 L687.5,456.48 L688.0,451.89 L688.5,447.29 L689.0,442.71 L689.5,438.15 L690.0,433.65 L690.5,429.21 L691.0,424.85 L691.5,420.60 L692.0,416.47 L692.5,412.47 L693.0,408.64 L693.5,404.98 L694.0,401.51 L694.5,398.25 L695.0,395.22 L695.5,392.42 L696.0,389.88 L696.5,387.61 L697.0,385.62 L697.5,383.91 L698.0,382.50 L698.5,381.40 L699.0,380.61 L699.5,380.13 L700.0,379.97 L700.5,380.13 L701.0,380.61 L701.5,381.40 L702.0,382.50 L702.5,383.91 L703.0,385.62 L703.5,387.61 L704.0,389.88 L704.5,392.42 L705.0,395.22 L705.5,398.25 L706.0,401.51 L706.5,404.98 L707.0,408.64 L707.5,412.47 L708.0,416.47 L708.5,420.60 L709.0,424.85 L709.5,429.21 L710.0,433.65 L710.5,438.15 L711.0,442.71 L711.5,447.29 L712.0,451.89 L712.5,456.48 L713.0,461.05 L713.5,465.59 L714.0,470.09 L714.5,474.52 L715.0,478.88 L715.5,483.15 L716.0,487.33 L716.5,491.40 L717.0,495.37 L717.5,499.21 L718.0,502.93 L718.5,506.51 L719.0,509.96 L719.5,513.28 L720.0,516.45 L720.5,519.49 L721.0,522.38 L721.5,525.12 L722.0,527.73 L722.5,530.20 L723.0,532.53 L723.5,534.73 L724.0,536.79 L724.5,538.73 L725.0,540.54 L725.5,542.24 L726.0,543.82 L726.5,545.28 L727.0,546.65 L727.5,547.91 L728.0,549.07 L728.5,550.15 L729.0,551.14 L729.5,552.05 L730.0,552.88 L730.5,553.64 L731.0,554.34 L731.5,554.97 L732.0,555.55 L732.5,556.07 L733.0,556.54 L733.5,556.97 L734.0,557.35 L734.5,557.70 L735.0,558.01 L735.5,558.29 L736.0,558.54 L736.5,558.77 L737.0,558.96 L737.5,559.14 L738.0,559.30 L738.5,559.44 L739.0,559.56 L739.5,559.67 L740.0,559.76 L740.5,559.85 L741.0,559.92 L741.5,559.99 L742.0,560.04 L742.5,560.09 L743.0,560.14 L743.5,560.17 L744.0,560.21 L744.5,560.23 L745.0,560.26 L745.5,560.28 L746.0,560.30 L746.5,560.31 L747.0,560.33 L747.5,560.34 L748.0,560.35 L748.5,560.36 L749.0,560.36 L749.5,560.37 L750.0,560.37 L750.5,560.38 L751.0,560.38 L751.5,560.38 L752.0,560.39 L752.5,560.39 L753.0,560.39 L753.5,560.39 L754.0,560.39 L754.5,560.39 L755.0,560.40 L755.5,560.40 L756.0,560.40 L756.5,560.40 L757.0,560.40 L757.5,560.40 L758.0,560.40 L758.5,560.40 L759.0,560.40 L759.5,560.40" fill="none" stroke="url(#gg)" stroke-width="1.7"/><line x1="700" y1="341.9" x2="700" y2="560.4" stroke="#a83030" stroke-width="1.6"/><rect x="44.5" y="329.9" width="1102" height="243" fill="none" stroke="#5e5e5e" stroke-width="1"/><line x1="72.50" y1="572.9" x2="72.50" y2="569.5" stroke="#444" stroke-width="1"/><text x="72.50" y="583.1" font-size="8.2" text-anchor="middle" fill="#1e1e1e" stroke="#1e1e1e" stroke-width="0.12" textLength="4.1" lengthAdjust="spacingAndGlyphs">0</text><line x1="126.67" y1="572.9" x2="126.67" y2="571" stroke="#aaa" stroke-width="1"/><text x="126.67" y="583.1" font-size="8.2" text-anchor="middle" fill="#1e1e1e" stroke="#1e1e1e" stroke-width="0.12" textLength="8.2" lengthAdjust="spacingAndGlyphs">20</text><line x1="180.84" y1="572.9" x2="180.84" y2="571" stroke="#aaa" stroke-width="1"/><text x="180.84" y="583.1" font-size="8.2" text-anchor="middle" fill="#1e1e1e" stroke="#1e1e1e" stroke-width="0.12" textLength="8.2" lengthAdjust="spacingAndGlyphs">40</text><line x1="235.01" y1="572.9" x2="235.01" y2="571" stroke="#aaa" stroke-width="1"/><text x="235.01" y="583.1" font-size="8.2" text-anchor="middle" fill="#1e1e1e" stroke="#1e1e1e" stroke-width="0.12" textLength="8.2" lengthAdjust="spacingAndGlyphs">60</text><line x1="289.18" y1="572.9" x2="289.18" y2="571" stroke="#aaa" stroke-width="1"/><text x="289.18" y="583.1" font-size="8.2" text-anchor="middle" fill="#1e1e1e" stroke="#1e1e1e" stroke-width="0.12" textLength="8.2" lengthAdjust="spacingAndGlyphs">80</text><line x1="343.35" y1="572.9" x2="343.35" y2="571" stroke="#aaa" stroke-width="1"/><text x="343.35" y="583.1" font-size="8.2" text-anchor="middle" fill="#1e1e1e" stroke="#1e1e1e" stroke-width="0.12" textLength="12.3" lengthAdjust="spacingAndGlyphs">100</text><line x1="397.52" y1="572.9" x2="397.52" y2="571" stroke="#aaa" stroke-width="1"/><text x="397.52" y="583.1" font-size="8.2" text-anchor="middle" fill="#1e1e1e" stroke="#1e1e1e" stroke-width="0.12" textLength="12.3" lengthAdjust="spacingAndGlyphs">120</text><line x1="451.69" y1="572.9" x2="451.69" y2="571" stroke="#aaa" stroke-width="1"/><text x="451.69" y="583.1" font-size="8.2" text-anchor="middle" fill="#1e1e1e" stroke="#1e1e1e" stroke-width="0.12" textLength="12.3" lengthAdjust="spacingAndGlyphs">140</text><line x1="505.86" y1="572.9" x2="505.86" y2="571" stroke="#aaa" stroke-width="1"/><text x="505.86" y="583.1" font-size="8.2" text-anchor="middle" fill="#1e1e1e" stroke="#1e1e1e" stroke-width="0.12" textLength="12.3" lengthAdjust="spacingAndGlyphs">160</text><line x1="560.03" y1="572.9" x2="560.03" y2="571" stroke="#aaa" stroke-width="1"/><text x="560.03" y="583.1" font-size="8.2" text-anchor="middle" fill="#1e1e1e" stroke="#1e1e1e" stroke-width="0.12" textLength="12.3" lengthAdjust="spacingAndGlyphs">180</text><line x1="614.20" y1="572.9" x2="614.20" y2="569.5" stroke="#444" stroke-width="1"/><text x="614.20" y="583.1" font-size="8.2" text-anchor="middle" fill="#1e1e1e" stroke="#1e1e1e" stroke-width="0.12" textLength="12.3" lengthAdjust="spacingAndGlyphs">200</text><line x1="668.37" y1="572.9" x2="668.37" y2="571" stroke="#aaa" stroke-width="1"/><text x="668.37" y="583.1" font-size="8.2" text-anchor="middle" fill="#1e1e1e" stroke="#1e1e1e" stroke-width="0.12" textLength="12.3" lengthAdjust="spacingAndGlyphs">220</text><line x1="722.54" y1="572.9" x2="722.54" y2="571" stroke="#aaa" stroke-width="1"/><text x="722.54" y="583.1" font-size="8.2" text-anchor="middle" fill="#1e1e1e" stroke="#1e1e1e" stroke-width="0.12" textLength="12.3" lengthAdjust="spacingAndGlyphs">240</text><line x1="776.71" y1="572.9" x2="776.71" y2="571" stroke="#aaa" stroke-width="1"/><text x="776.71" y="583.1" font-size="8.2" text-anchor="middle" fill="#1e1e1e" stroke="#1e1e1e" stroke-width="0.12" textLength="12.3" lengthAdjust="spacingAndGlyphs">260</text><line x1="830.88" y1="572.9" x2="830.88" y2="571" stroke="#aaa" stroke-width="1"/><text x="830.88" y="583.1" font-size="8.2" text-anchor="middle" fill="#1e1e1e" stroke="#1e1e1e" stroke-width="0.12" textLength="12.3" lengthAdjust="spacingAndGlyphs">280</text><line x1="885.05" y1="572.9" x2="885.05" y2="571" stroke="#aaa" stroke-width="1"/><text x="885.05" y="583.1" font-size="8.2" text-anchor="middle" fill="#1e1e1e" stroke="#1e1e1e" stroke-width="0.12" textLength="12.3" lengthAdjust="spacingAndGlyphs">300</text><line x1="939.22" y1="572.9" x2="939.22" y2="571" stroke="#aaa" stroke-width="1"/><text x="939.22" y="583.1" font-size="8.2" text-anchor="middle" fill="#1e1e1e" stroke="#1e1e1e" stroke-width="0.12" textLength="12.3" lengthAdjust="spacingAndGlyphs">320</text><line x1="993.39" y1="572.9" x2="993.39" y2="571" stroke="#aaa" stroke-width="1"/><text x="993.39" y="583.1" font-size="8.2" text-anchor="middle" fill="#1e1e1e" stroke="#1e1e1e" stroke-width="0.12" textLength="12.3" lengthAdjust="spacingAndGlyphs">340</text><line x1="1047.56" y1="572.9" x2="1047.56" y2="571" stroke="#aaa" stroke-width="1"/><text x="1047.56" y="583.1" font-size="8.2" text-anchor="middle" fill="#1e1e1e" stroke="#1e1e1e" stroke-width="0.12" textLength="12.3" lengthAdjust="spacingAndGlyphs">360</text><line x1="1101.73" y1="572.9" x2="1101.73" y2="571" stroke="#aaa" stroke-width="1"/><text x="1101.73" y="583.1" font-size="8.2" text-anchor="middle" fill="#1e1e1e" stroke="#1e1e1e" stroke-width="0.12" textLength="12.3" lengthAdjust="spacingAndGlyphs">380</text><line x1="44.5" y1="560.40" x2="47.5" y2="560.40" stroke="#999" stroke-width="1"/><text x="41.1" y="563.40" font-size="8.2" text-anchor="end" fill="#1e1e1e" stroke="#1e1e1e" stroke-width="0.12" textLength="4.1" lengthAdjust="spacingAndGlyphs">0</text><line x1="44.5" y1="527.23" x2="47.5" y2="527.23" stroke="#999" stroke-width="1"/><text x="41.1" y="530.23" font-size="8.2" text-anchor="end" fill="#1e1e1e" stroke="#1e1e1e" stroke-width="0.12" textLength="16.4" lengthAdjust="spacingAndGlyphs">2000</text><line x1="44.5" y1="494.07" x2="47.5" y2="494.07" stroke="#999" stroke-width="1"/><text x="41.1" y="497.07" font-size="8.2" text-anchor="end" fill="#1e1e1e" stroke="#1e1e1e" stroke-width="0.12" textLength="16.4" lengthAdjust="spacingAndGlyphs">4000</text><line x1="44.5" y1="460.90" x2="47.5" y2="460.90" stroke="#999" stroke-width="1"/><text x="41.1" y="463.90" font-size="8.2" text-anchor="end" fill="#1e1e1e" stroke="#1e1e1e" stroke-width="0.12" textLength="16.4" lengthAdjust="spacingAndGlyphs">6000</text><line x1="44.5" y1="427.73" x2="47.5" y2="427.73" stroke="#999" stroke-width="1"/><text x="41.1" y="430.73" font-size="8.2" text-anchor="end" fill="#1e1e1e" stroke="#1e1e1e" stroke-width="0.12" textLength="16.4" lengthAdjust="spacingAndGlyphs">8000</text><line x1="44.5" y1="394.57" x2="47.5" y2="394.57" stroke="#999" stroke-width="1"/><text x="41.1" y="397.57" font-size="8.2" text-anchor="end" fill="#1e1e1e" stroke="#1e1e1e" stroke-width="0.12" textLength="20.5" lengthAdjust="spacingAndGlyphs">10000</text><line x1="44.5" y1="361.40" x2="47.5" y2="361.40" stroke="#999" stroke-width="1"/><text x="41.1" y="364.40" font-size="8.2" text-anchor="end" fill="#1e1e1e" stroke="#1e1e1e" stroke-width="0.12" textLength="20.5" lengthAdjust="spacingAndGlyphs">12000</text><text x="594.6" y="599.0" font-size="8.0" text-anchor="middle" fill="#1e1e1e" stroke="#1e1e1e" stroke-width="0.22" textLength="52" lengthAdjust="spacingAndGlyphs">brightness drop</text><text transform="translate(13.2,455.5) rotate(-90)" font-size="7.3" text-anchor="middle" fill="#1e1e1e" textLength="120" lengthAdjust="spacingAndGlyphs">number of times noise produced drop</text><line x1="72.5" y1="368.30" x2="89" y2="368.30" stroke="#dcdcdc" stroke-width="1.5"/><text x="95.6" y="371.90" font-size="10.5" text-anchor="start" fill="#1e1e1e" stroke="#1e1e1e" stroke-width="0.22" textLength="272.4" lengthAdjust="spacingAndGlyphs">vertical red line: the observed drop (B - A) extracted from lightcurve</text><line x1="72.5" y1="385.70" x2="89" y2="385.70" stroke="#dcdcdc" stroke-width="1.5"/><text x="95.6" y="389.30" font-size="10.5" text-anchor="start" fill="#1e1e1e" stroke="#1e1e1e" stroke-width="0.22" textLength="183.3" lengthAdjust="spacingAndGlyphs">vertical blue line: peak of noise induced drops</text><line x1="72.5" y1="403.10" x2="89" y2="403.10" stroke="#dcdcdc" stroke-width="1.5"/><text x="95.6" y="406.70" font-size="10.5" text-anchor="start" fill="#1e1e1e" stroke="#1e1e1e" stroke-width="0.22" textLength="158.0" lengthAdjust="spacingAndGlyphs">green curve: observed drop distribution</text><line x1="72.5" y1="420.50" x2="89" y2="420.50" stroke="#dcdcdc" stroke-width="1.5"/><text x="95.6" y="424.10" font-size="10.5" text-anchor="start" fill="#1e1e1e" stroke="#1e1e1e" stroke-width="0.22" textLength="188.4" lengthAdjust="spacingAndGlyphs">blue histogram: noise induced drop distribution</text><line x1="72.5" y1="437.90" x2="89" y2="437.90" stroke="#dcdcdc" stroke-width="1.5"/><text x="95.6" y="441.50" font-size="10.5" text-anchor="start" fill="#1e1e1e" stroke="#1e1e1e" stroke-width="0.22" textLength="234.6" lengthAdjust="spacingAndGlyphs">sigma distance between noisePeak and observed drop: 9.4</text></svg></body></html>
